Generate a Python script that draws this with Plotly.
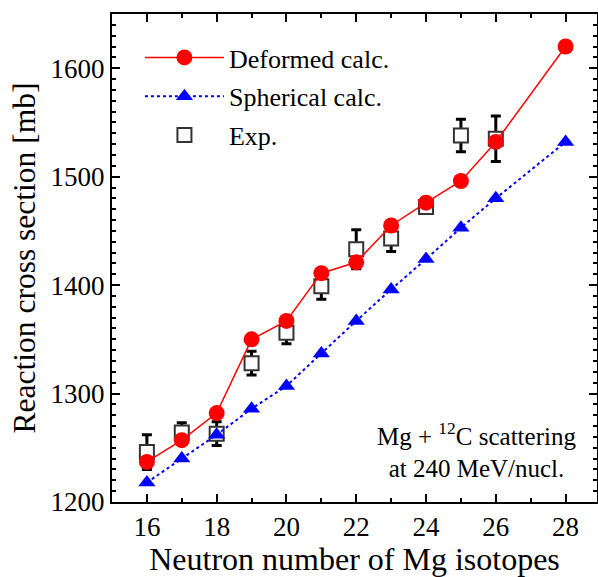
import plotly.graph_objects as go

# ---- data ----
N_calc = [16, 17, 18, 19, 20, 21, 22, 23, 24, 25, 26, 28]
deformed = [1237, 1257, 1282, 1350, 1367, 1411, 1421, 1455, 1476, 1496, 1532, 1620]
spherical = [1218, 1240, 1262, 1286, 1307, 1337, 1367, 1396, 1424, 1453, 1480, 1532]

N_exp = [16, 17, 18, 19, 20, 21, 22, 23, 24, 25, 26]
exp_val = [1246, 1264, 1263, 1328, 1356, 1399, 1433, 1443, 1472, 1538, 1535]
exp_err = [16, 9, 11, 11, 10, 12, 18, 12, 5, 15, 21]

x_ticks = [16, 18, 20, 22, 24, 26, 28]
y_ticks = [1200, 1300, 1400, 1500, 1600]

FONT = "Times New Roman, Liberation Serif, serif"

fig = go.Figure()

fig.add_trace(go.Scatter(
    x=N_exp, y=exp_val, mode="markers", name="Exp.",
    error_y=dict(type="data", array=exp_err, color="black", thickness=3, width=5),
    marker=dict(symbol="square", size=14, color="white",
                line=dict(color="#333333", width=2)),
    legendgroup="c", legendrank=3,
))
fig.add_trace(go.Scatter(
    x=N_calc, y=spherical, mode="lines+markers", name="Spherical calc.",
    line=dict(color="blue", width=2, dash="dot"),
    marker=dict(symbol="triangle-up", size=15, color="blue"),
    legendgroup="b", legendrank=2,
))
fig.add_trace(go.Scatter(
    x=N_calc, y=deformed, mode="lines+markers", name="Deformed calc.",
    line=dict(color="red", width=1.5),
    marker=dict(symbol="circle", size=16, color="red"),
    legendgroup="a", legendrank=1,
))

axis_common = dict(
    showline=True, linecolor="black", linewidth=2, mirror="ticks",
    ticks="inside", ticklen=8, tickwidth=1.5, tickcolor="black",
    showgrid=False, zeroline=False, automargin=False,
    tickfont=dict(family=FONT, size=27, color="black"),
)

fig.update_xaxes(
    range=[15, 28.9], tickvals=x_ticks,
    minor=dict(dtick=1, ticks="inside", ticklen=4, tickwidth=1.5, tickcolor="black"),
    title=dict(text="Neutron number of Mg isotopes", font=dict(family=FONT, size=32, color="black"), standoff=4),
    **axis_common,
)
fig.update_yaxes(
    range=[1200, 1650], tickvals=y_ticks,
    minor=dict(dtick=10, ticks="inside", ticklen=4, tickwidth=1.5, tickcolor="black"),
    title=dict(text="Reaction cross section [mb]", font=dict(family=FONT, size=31.5, color="black"), standoff=6),
    **axis_common,
)

fig.add_annotation(
    x=25.45, y=1248, xref="x", yref="y",
    text="Mg + <sup>12</sup>C scattering<br>at 240 MeV/nucl.",
    showarrow=False, align="center",
    font=dict(family=FONT, size=25, color="black"),
)

fig.update_layout(
    width=598, height=577,
    margin=dict(l=112, r=1, t=14, b=75),
    paper_bgcolor="white", plot_bgcolor="white",
    showlegend=True,
    legend=dict(
        x=0.0576, y=0.959, xanchor="left", yanchor="top",
        bgcolor="rgba(0,0,0,0)", font=dict(family=FONT, size=26, color="black"),
        tracegroupgap=2, itemwidth=79, traceorder="grouped",
    ),
)

fig.write_html(
    "out.html",
    config={"displayModeBar": False},
    post_script="document.body.style.margin='0';document.body.style.overflow='hidden';",
)
